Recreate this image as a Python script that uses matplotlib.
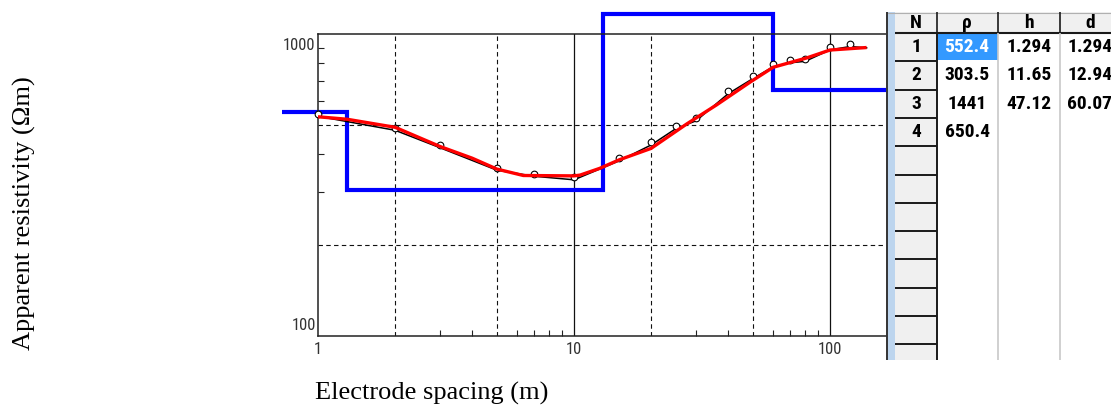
import numpy as np
import matplotlib
matplotlib.use("Agg")
import matplotlib.pyplot as plt
from matplotlib.patches import Rectangle
from matplotlib.ticker import NullFormatter
import matplotlib.transforms as mtrans
import matplotlib.font_manager as fm

# ---------------- data ----------------
layer_n = [1, 2, 3, 4]
layer_rho = [552.4, 303.5, 1441, 650.4]
layer_h = [1.294, 11.65, 47.12]
layer_d = [1.294, 12.94, 60.07]

obs_ab2 = [1, 2, 3, 5, 7, 10, 15, 20, 25, 30, 40, 50, 60, 70, 80, 100, 120]
obs_rho = [534, 480, 420, 354, 338, 329, 380, 429, 486, 516, 634, 712, 779, 803, 812, 886, 909]
obs_curve_ab2 = obs_ab2 + [139]
obs_curve_rho = obs_rho + [900]

calc_ab2 = [1, 1.3, 2, 3, 4, 5, 6.34, 10, 10.56, 12.6, 15, 20, 27.6, 36, 49, 60, 81, 100, 139]
calc_rho = [532, 522, 491, 424, 388, 357, 340, 339, 341, 359, 383, 418, 504, 582, 695, 776, 833, 885, 902]

x_ticks = [1, 10, 100]
x_ticklabels = ["1", "10", "100"]
x_minor = [3, 4, 6, 7, 8, 9, 30, 40, 60, 70, 80, 90]
y_minor = [300, 400, 600, 700, 800, 900]
grid_x_dashed = [2, 5, 20, 50]
grid_x_solid = [10, 100]
grid_y_dashed = [200, 500]
header = ["N", "\u03c1", "h", "d"]

# ---------------- fonts ----------------
names = {f.name for f in fm.fontManager.ttflist}
narrow = None
for cand in ["Liberation Sans Narrow", "Roboto Condensed", "Open Sans Condensed"]:
    if cand in names:
        narrow = cand
        break
narrow_fam = [narrow, "DejaVu Sans"] if narrow else ["DejaVu Sans"]
serif_fam = ["Liberation Serif", "DejaVu Serif"]

W, H = 1111, 408
fig = plt.figure(figsize=(W / 100, H / 100), dpi=100)
fig.patch.set_facecolor("white")


def fx(px):
    return px / W


def fy(py):
    return 1 - py / H


# ---------------- main axes ----------------
L, R, T, B = 318, 886, 34, 336
ax = fig.add_axes([fx(L), fy(B), fx(R) - fx(L), fy(T) - fy(B)])
ax.set_xscale("log")
ax.set_yscale("log")
ax.set_xlim(1, 10 ** ((R - L) / 256))
ax.set_ylim(100, 1000)

for s in ["top", "bottom", "left"]:
    ax.spines[s].set_color("#222222")
    ax.spines[s].set_linewidth(1.1)
ax.spines["right"].set_visible(False)

ax.set_xticks(x_ticks)
ax.set_xticklabels(x_ticklabels, fontfamily=narrow_fam, fontsize=12, color="#333333")
ax.set_xticks(x_minor, minor=True)
ax.xaxis.set_minor_formatter(NullFormatter())
ax.set_yticks([])
ax.set_yticks(y_minor, minor=True)
ax.yaxis.set_minor_formatter(NullFormatter())
ax.tick_params(axis="x", which="major", length=0, pad=4)
ax.tick_params(axis="both", which="minor", direction="in", length=4.3, width=0.8, color="#222222")

dash = (0, (4, 3))
for xv in grid_x_dashed:
    ax.axvline(xv, color="#111111", lw=0.8, linestyle=dash, zorder=1)
for xv in grid_x_solid:
    ax.axvline(xv, color="#111111", lw=0.9, zorder=1)
for yv in grid_y_dashed:
    ax.axhline(yv, color="#111111", lw=0.8, linestyle=dash, zorder=1)

# y labels (placed like the original program)
off_down = mtrans.offset_copy(ax.transData, fig=fig, x=-3, y=-4, units="dots")
off_up = mtrans.offset_copy(ax.transData, fig=fig, x=-2, y=3, units="dots")
ax.text(1, 1000, "1000", transform=off_down, ha="right", va="top",
        fontfamily=narrow_fam, fontsize=12, color="#333333", clip_on=False)
ax.text(1, 100, "100", transform=off_up, ha="right", va="bottom",
        fontfamily=narrow_fam, fontsize=12, color="#333333", clip_on=False)

# model (blue) step line, clamped to the drawing area like the program does
fig.canvas.draw()
inv = ax.transData.inverted()
x_left = inv.transform((282, H - 300))[0]
rho_top = inv.transform((400, H - 14))[1]
x_right = ax.get_xlim()[1]
rho_c = [min(r, rho_top) for r in layer_rho]
blue_x = [x_left] + [d for d in layer_d for _ in (0, 1)] + [x_right]
blue_y = [r for r in rho_c for _ in (0, 1)]
ax.plot(blue_x, blue_y, color="#0000ff", lw=3.0, clip_on=False, zorder=2,
        solid_joinstyle="miter", solid_capstyle="butt")

# observed curve; the program draws its circles a little above the points
ax.plot(obs_curve_ab2, obs_curve_rho, color="black", lw=1.1, zorder=3)
mark_tr = mtrans.offset_copy(ax.transData, fig=fig, x=0, y=2.5, units="dots")
ax.plot(obs_ab2, obs_rho, "o", mfc="white", mec="black", ms=4.8, mew=0.8, zorder=4,
        clip_on=False, transform=mark_tr)
ax.plot(calc_ab2, calc_rho, color="#ff0000", lw=2.4, zorder=5, solid_capstyle="butt",
        solid_joinstyle="round")

fig.text(fx(24), fy(213), "Apparent resistivity (\u03a9m)", rotation=90, ha="center", va="center",
         fontfamily=serif_fam, fontsize=19)
fig.text(fx(431.5), fy(400), "Electrode spacing (m)", ha="center", va="baseline",
         fontfamily=serif_fam, fontsize=19)

# ---------------- table panel ----------------
P0, P1, PT, PB = 886, 1111, 12, 360
pax = fig.add_axes([fx(P0), fy(PB), fx(P1) - fx(P0), fy(PT) - fy(PB)])
pax.set_xlim(P0, P1)
pax.set_ylim(PB, PT)
pax.axis("off")
row_h = 28.3
hdr_b = 33
c_n0, c_n1, c_h, c_d = 895, 937, 998, 1060

pax.add_patch(Rectangle((887, PT), c_n0 - 887, PB - PT, fc="#bdd5ee", ec="none"))
pax.add_patch(Rectangle((c_n0, PT), P1 - c_n0, hdr_b - PT, fc="#f0f0f0", ec="none"))
pax.add_patch(Rectangle((c_n0, hdr_b), c_n1 - c_n0, PB - hdr_b, fc="#f0f0f0", ec="none"))
pax.add_patch(Rectangle((c_n1 + 1, hdr_b + 1), c_h - c_n1 - 1, row_h - 2, fc="#3399ff", ec="none"))

n_rows = int((PB - hdr_b) / row_h) + 1
for i in range(1, n_rows):
    pax.hlines(hdr_b + i * row_h, c_n0, c_n1, color="#1a1a1a", lw=1.4)
pax.hlines(hdr_b, c_n0, P1, color="#1a1a1a", lw=1.5)
pax.hlines(PT + 0.5, 887, P1, color="#b0b0b0", lw=0.8)
pax.vlines([c_n1, c_h, c_d], PT, hdr_b, color="#1a1a1a", lw=1.2)
pax.vlines(c_n1, hdr_b, PB, color="#1a1a1a", lw=1.4)
pax.vlines([c_h, c_d], hdr_b, PB, color="#c8c8c8", lw=1.2)
pax.vlines(P0 + 0.7, PT, PB, color="#333333", lw=1.4)

col_cx = [916, 967, 1029, 1090]
tkw = dict(ha="center", va="center", fontfamily=narrow_fam, fontsize=14, fontweight="bold")
for cx, lab in zip(col_cx, header):
    pax.text(cx, (PT + hdr_b) / 2, lab, **tkw)
for i, n in enumerate(layer_n):
    cy = hdr_b + (i + 0.5) * row_h
    pax.text(col_cx[0], cy, str(n), **tkw)
    pax.text(col_cx[1], cy, f"{layer_rho[i]:.4g}", color="white" if i == 0 else "black", **tkw)
    if i < len(layer_h):
        pax.text(col_cx[2], cy, f"{layer_h[i]:.4g}", **tkw)
        pax.text(col_cx[3], cy, f"{layer_d[i]:.4g}", **tkw)

fig.savefig("out.png", dpi=100)
